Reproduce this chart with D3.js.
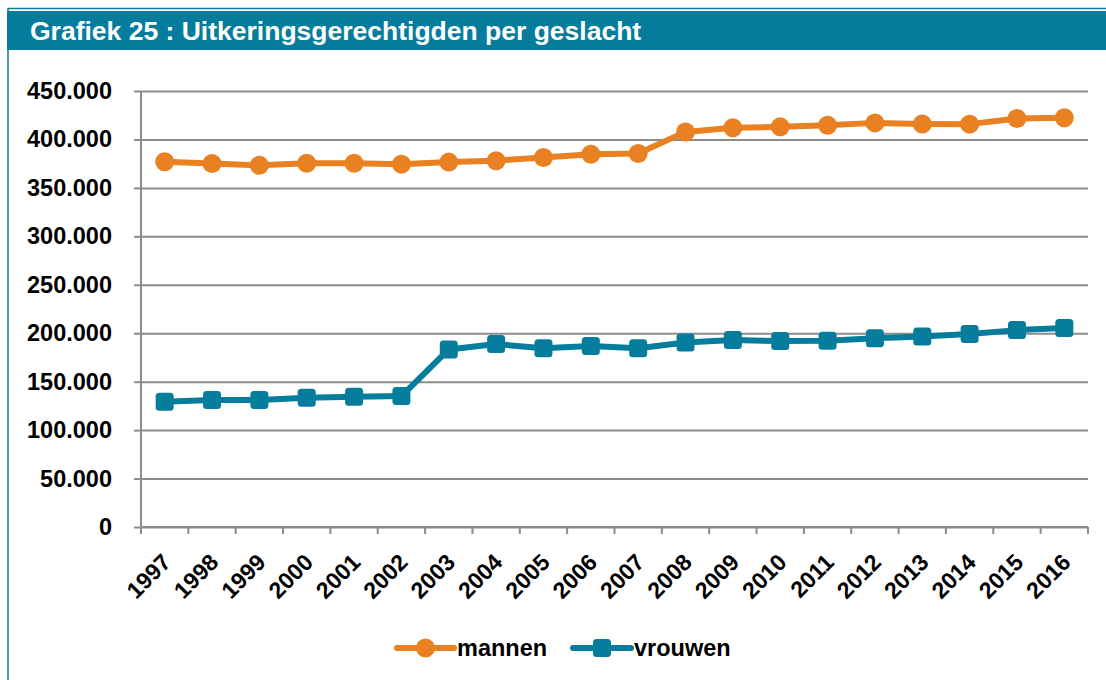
<!DOCTYPE html>
<html>
<head>
<meta charset="utf-8">
<script src="https://cdn.jsdelivr.net/npm/d3@7"></script>
<style>
  html, body { margin: 0; padding: 0; background: #fff; }
  svg { display: block; font-family: "Liberation Sans", Arial, Helvetica, sans-serif; }
</style>
</head>
<body>
<svg id="chart" width="1106" height="680"></svg>
<script>
const title = "Grafiek 25 : Uitkeringsgerechtigden per geslacht";
const years = ["1997","1998","1999","2000","2001","2002","2003","2004","2005","2006","2007","2008","2009","2010","2011","2012","2013","2014","2015","2016"];
const mannen = [377000,375200,373300,375500,375500,374500,376600,378100,381400,384800,385500,407800,412000,413000,414700,417100,416000,415800,421600,422300];
const vrouwen = [129300,131000,131000,133400,134400,135100,183300,188800,184400,186700,184400,190500,192900,191900,192200,194700,196500,199100,203200,205300];
const yTicks = [0,50000,100000,150000,200000,250000,300000,350000,400000,450000];
const seriesNames = ["mannen","vrouwen"];

const orange = "#e98021", teal = "#067d9c", grid = "#8c8c8c", frame = "#067c9c";
const svg = d3.select("#chart");

// frame + title bar
svg.append("line").attr("x1", 8).attr("x2", 1106).attr("y1", 8.5).attr("y2", 8.5).attr("stroke", frame).attr("stroke-width", 1.5);
svg.append("rect").attr("x", 7).attr("y", 11).attr("width", 1099).attr("height", 39).attr("fill", frame);
svg.append("line").attr("x1", 8).attr("x2", 8).attr("y1", 8).attr("y2", 680).attr("stroke", frame).attr("stroke-width", 1.5);
svg.append("text").attr("x", 30).attr("y", 40).attr("fill", "#fff")
  .attr("font-size", 26.5).attr("font-weight", "bold").text(title);

const x = d3.scaleBand().domain(years).range([141, 1088]).padding(0);
const y = d3.scaleLinear().domain([0, 450000]).range([527, 91]);
const fmt = d3.formatLocale({decimal: ",", thousands: ".", grouping: [3], currency: ["€", ""]}).format(",");

// gridlines
const gridG = svg.append("g").attr("transform", "translate(141,0)")
  .call(d3.axisRight(y).tickValues(yTicks).tickSize(947).tickFormat(""));
gridG.select(".domain").remove();
gridG.selectAll(".tick line").attr("stroke", grid).attr("stroke-width", 2);

// y axis
const yG = svg.append("g").attr("transform", "translate(141,0)")
  .call(d3.axisLeft(y).tickValues(yTicks).tickSize(7).tickPadding(22).tickFormat(fmt));
yG.select(".domain").attr("stroke", grid).attr("stroke-width", 2).attr("d", "M0,91V527");
yG.selectAll(".tick line").attr("stroke", grid).attr("stroke-width", 2);
yG.selectAll(".tick text").attr("font-size", 23.5).attr("font-weight", "bold").attr("fill", "#000")
  .attr("font-family", "Liberation Sans, Arial, sans-serif");

// x axis
const xG = svg.append("g").attr("transform", "translate(0,527)")
  .call(d3.axisBottom(x).tickSize(0).tickPadding(0));
xG.select(".domain").attr("stroke", grid).attr("stroke-width", 2).attr("d", "M141,0H1088");
xG.selectAll(".tick text")
  .attr("font-size", 23).attr("font-weight", "bold").attr("fill", "#000")
  .attr("font-family", "Liberation Sans, Arial, sans-serif")
  .attr("text-anchor", "end")
  .attr("transform", "translate(2,31) rotate(-45)")
  .attr("dy", "0.35em");
const bounds = years.map(d => x(d)).concat([x.range()[1]]);
xG.selectAll("line.bt").data(bounds).join("line").attr("class", "bt")
  .attr("x1", d => d).attr("x2", d => d).attr("y1", 0).attr("y2", 7)
  .attr("stroke", grid).attr("stroke-width", 2);

const cx = d => x(d) + x.bandwidth() / 2;
const line = d3.line().x((d, i) => cx(years[i])).y(d => y(d));

// mannen
svg.append("path").datum(mannen).attr("d", line).attr("fill", "none")
  .attr("stroke", orange).attr("stroke-width", 6).attr("stroke-linejoin", "round");
svg.append("g").selectAll("circle").data(mannen).join("circle")
  .attr("cx", (d, i) => cx(years[i])).attr("cy", d => y(d)).attr("r", 9.5).attr("fill", orange);

// vrouwen
svg.append("path").datum(vrouwen).attr("d", line).attr("fill", "none")
  .attr("stroke", teal).attr("stroke-width", 6).attr("stroke-linejoin", "round");
const sq = 18;
svg.append("g").selectAll("rect").data(vrouwen).join("rect")
  .attr("x", (d, i) => cx(years[i]) - sq / 2).attr("y", d => y(d) - sq / 2)
  .attr("width", sq).attr("height", sq).attr("rx", 3.5).attr("fill", teal);

// legend
const leg = svg.append("g");
const legItems = [
  {name: seriesNames[0], color: orange, x0: 397, x1: 454, shape: "circle", tx: 457},
  {name: seriesNames[1], color: teal, x0: 573, x1: 631, shape: "rect", tx: 634}
];
const ly = 648;
legItems.forEach(it => {
  leg.append("line").attr("x1", it.x0).attr("x2", it.x1).attr("y1", ly).attr("y2", ly)
    .attr("stroke", it.color).attr("stroke-width", 6).attr("stroke-linecap", "round");
  const mx = (it.x0 + it.x1) / 2;
  if (it.shape === "circle") {
    leg.append("circle").attr("cx", mx).attr("cy", ly).attr("r", 9.5).attr("fill", it.color);
  } else {
    leg.append("rect").attr("x", mx - sq / 2).attr("y", ly - sq / 2).attr("width", sq).attr("height", sq)
      .attr("rx", 3.5).attr("fill", it.color);
  }
  leg.append("text").attr("x", it.tx).attr("y", ly + 8).attr("font-size", 23.5).attr("font-weight", "bold")
    .attr("fill", "#000").text(it.name);
});
</script>
</body>
</html>
